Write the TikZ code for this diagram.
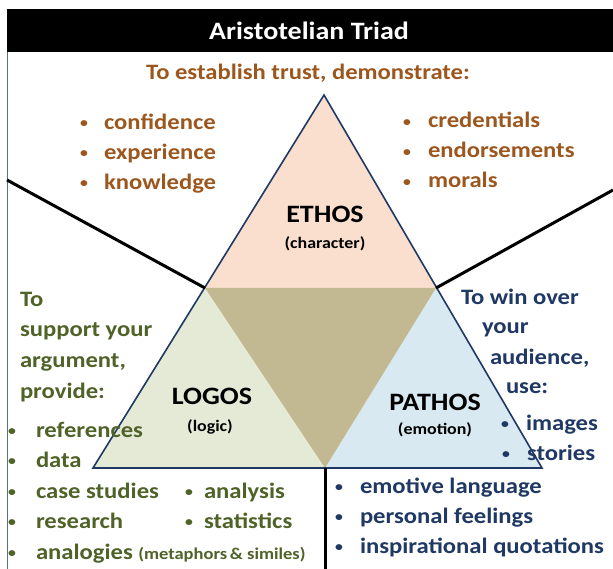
\documentclass[tikz,border=0pt]{standalone}
\usepackage{fontspec}
\setmainfont{Carlito}[FakeStretch=1.12]
\definecolor{brownc}{RGB}{156,87,30}
\definecolor{greenc}{RGB}{79,98,40}
\definecolor{navyc}{RGB}{31,56,100}
\definecolor{ethosc}{RGB}{250,223,206}
\definecolor{logosc}{RGB}{228,234,214}
\definecolor{pathosc}{RGB}{216,233,241}
\definecolor{centerc}{RGB}{194,185,147}
\definecolor{framec}{RGB}{90,110,140}
\newcommand{\bulbox}[1]{\makebox[#1][l]{\hspace{2pt}\raisebox{1.5pt}{\fontsize{14}{14}\selectfont •}}}
\tikzset{
  base/.style={inner sep=0pt, outer sep=0pt, font=\bfseries\fontsize{22}{26}\selectfont, anchor=base west},
  browntxt/.style={base, text=brownc},
  greentxt/.style={base, text=greenc},
  navytxt/.style={base, text=navyc},
  bigname/.style={inner sep=0pt, anchor=base, font=\bfseries\fontsize{25}{28}\selectfont, text=black},
  subname/.style={inner sep=0pt, anchor=base, font=\bfseries\fontsize{16}{18}\selectfont, text=black},
  blackline/.style={line width=3pt, black},
  edge/.style={line width=1.6pt, navyc, line join=miter}
}
\begin{document}
\begin{tikzpicture}[x=1pt,y=-1pt]
\useasboundingbox (0,0) rectangle (613,569);
\fill[white] (0,0) rectangle (613,569);
% title bar
\fill[black] (7,9) rectangle (613,52);
\draw[framec, line width=1pt] (7,52) -- (7,569);
\node[inner sep=0pt, anchor=base, text=white, font=\bfseries\fontsize{25}{28}\selectfont] (title) at (309,39.5) {Aristotelian Triad};
% triangle points
\coordinate (A) at (324,95);
\coordinate (BL) at (93,468);
\coordinate (BR) at (542,468);
\coordinate (L) at (205,288);
\coordinate (R) at (436,288);
\coordinate (B) at (325,468);
\coordinate (LE) at (7,180);
\coordinate (RE) at (613,190);
\coordinate (BE) at (325,569);
\fill[ethosc] (A) -- (L) -- (R) -- cycle;
\fill[logosc] (L) -- (BL) -- (B) -- cycle;
\fill[pathosc] (R) -- (B) -- (BR) -- cycle;
\fill[centerc] (L) -- (R) -- (B) -- cycle;
\draw[edge] (A) -- (BL) -- (BR) -- cycle;
\draw[blackline] (LE) -- (L);
\draw[blackline] (R) -- (RE);
\draw[blackline] (B) -- (BE);
% top text
\node[browntxt, anchor=base] (trust) at (308,80) {To establish trust, demonstrate:};
\node[browntxt] (t1) at (78,129.5) {\bulbox{26pt}confidence};
\node[browntxt] (t2) at (78,159.5) {\bulbox{26pt}experience};
\node[browntxt] (t3) at (78,189.5) {\bulbox{26pt}knowledge};
\node[browntxt] (t4) at (401,128) {\bulbox{27pt}credentials};
\node[browntxt] (t5) at (401,158) {\bulbox{27pt}endorsements};
\node[browntxt] (t6) at (401,188) {\bulbox{27pt}morals};
% names
\node[bigname] (ethos) at (325,222.5) {ETHOS};
\node[subname] (ethoss) at (325,249) {(character)};
\node[bigname] (logos) at (212,404) {LOGOS};
\node[subname] (logoss) at (210,431.5) {(logic)};
\node[bigname] (pathos) at (435,410) {PATHOS};
\node[subname] (pathoss) at (435,434) {(emotion)};
% left text
\node[greentxt] (g1) at (20,306) {To};
\node[greentxt] (g2) at (20,337) {support your};
\node[greentxt] (g3) at (20,367) {argument,};
\node[greentxt] (g4) at (20,398) {provide:};
\node[greentxt] (g5) at (6,437) {\bulbox{30pt}references};
\node[greentxt] (g6) at (6,467) {\bulbox{30pt}data};
\node[greentxt] (g7) at (6,498) {\bulbox{30pt}case studies};
\node[greentxt] (g8) at (6,528) {\bulbox{30pt}research};
\node[greentxt] (g9) at (6,559) {\bulbox{30pt}analogies {\fontsize{16.5}{18}\selectfont(metaphors\,\& similes)}};
\node[greentxt] (g10) at (183,498) {\bulbox{21pt}analysis};
\node[greentxt] (g11) at (183,528) {\bulbox{21pt}statistics};
% right text
\node[navytxt] (n1) at (461,305) {To win over};
\node[navytxt] (n2) at (482,334) {your};
\node[navytxt] (n3) at (490,364) {audience,};
\node[navytxt] (n4) at (506,393) {use:};
\node[navytxt] (n5) at (499,430) {\bulbox{27pt}images};
\node[navytxt] (n6) at (500,460) {\bulbox{27pt}stories};
\node[navytxt] (n7) at (333,493) {\bulbox{27pt}emotive language};
\node[navytxt] (n8) at (333,523) {\bulbox{27pt}personal feelings};
\node[navytxt] (n9) at (333,553) {\bulbox{27pt}inspirational quotations};
\end{tikzpicture}
\end{document}
